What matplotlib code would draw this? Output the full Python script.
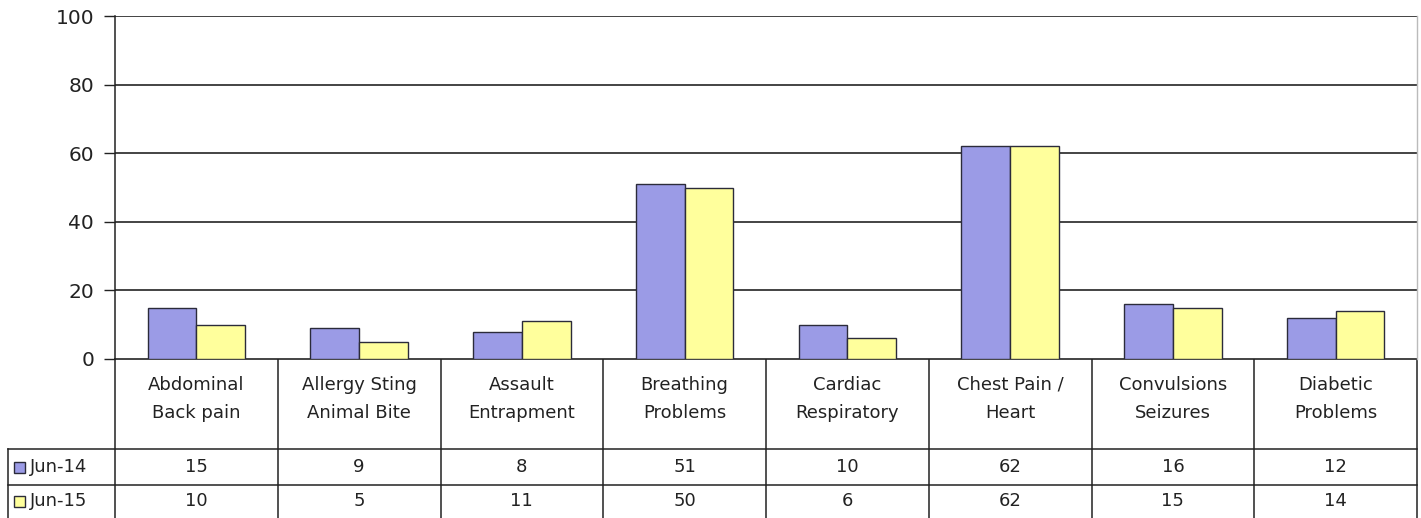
import matplotlib.pyplot as plt
import matplotlib.transforms as mtransforms
from matplotlib.patches import Rectangle

categories = ["Abdominal\nBack pain", "Allergy Sting\nAnimal Bite", "Assault\nEntrapment",
              "Breathing\nProblems", "Cardiac\nRespiratory", "Chest Pain /\nHeart",
              "Convulsions\nSeizures", "Diabetic\nProblems"]
series_names = ["Jun-14", "Jun-15"]
jun14 = [15, 9, 8, 51, 10, 62, 16, 12]
jun15 = [10, 5, 11, 50, 6, 62, 15, 14]
yticks = [0, 20, 40, 60, 80, 100]

colors = ["#9b9be6", "#ffff9c"]
edge = "#2b2b3a"

plt.rcParams['font.family'] = ['DejaVu Sans']

W, H = 1421, 518
fig = plt.figure(figsize=(W / 100, H / 100), dpi=100)

# plot area in pixel terms
left, right, top, bottom = 115, 1417, 16, 359
ax = fig.add_axes([left / W, 1 - bottom / H, (right - left) / W, (bottom - top) / H])

n = len(categories)
xs = list(range(n))
bw = 0.3
ax.bar([x - bw / 2 for x in xs], jun14, width=bw, color=colors[0], edgecolor=edge, linewidth=1.0, zorder=3)
ax.bar([x + bw / 2 for x in xs], jun15, width=bw, color=colors[1], edgecolor=edge, linewidth=1.0, zorder=3)

ax.set_xlim(-0.5, n - 0.5)
ax.set_ylim(0, 100)
ax.set_yticks(yticks)
ax.set_yticklabels([str(v) for v in yticks], fontsize=14.5, color="#222222")
ax.set_xticks([])
ax.tick_params(axis='y', length=8, width=1.0, color="#222222", pad=7)
ax.grid(axis='y', color="#111111", linewidth=1.1, zorder=0)
ax.set_axisbelow(True)
for side in ["top", "bottom"]:
    ax.spines[side].set_visible(False)
ax.spines["left"].set_color("#222222")
ax.spines["left"].set_linewidth(1.1)
ax.spines["right"].set_color("#bbbbbb")
ax.spines["right"].set_linewidth(1.0)

# data table under the plot
ax_t = fig.add_axes([0, 0, 1, 1], zorder=-1)
ax_t.set_xlim(0, W)
ax_t.set_ylim(H, 0)
ax_t.axis("off")
tr = mtransforms.blended_transform_factory(ax.transData, ax_t.transData)

lc = "#222222"
row_tops = [bottom, 449, 485, H]
ax_t.plot([left, right], [bottom, bottom], color=lc, lw=1.2)
for y in row_tops[1:3]:
    ax_t.plot([8, right], [y, y], color=lc, lw=1.1)
ax_t.plot([8, 8], [row_tops[1], H], color=lc, lw=1.1)
for i in range(n + 1):
    ax_t.plot([i - 0.5, i - 0.5], [bottom, H], color=lc, lw=1.1, transform=tr)

for i, cat in enumerate(categories):
    ax_t.text(i, 399, cat, transform=tr, ha="center", va="center",
              fontsize=13, linespacing=1.75, color="#222222")

for r, (name, vals) in enumerate(zip(series_names, [jun14, jun15])):
    yc = (row_tops[r + 1] + row_tops[r + 2]) / 2
    ax_t.add_patch(Rectangle((14, yc - 5.5), 11, 11, facecolor=colors[r], edgecolor=edge, lw=1.0))
    ax_t.text(30, yc, name, ha="left", va="center", fontsize=13, color="#222222")
    for i, v in enumerate(vals):
        ax_t.text(i, yc, str(v), transform=tr, ha="center", va="center", fontsize=13, color="#222222")

fig.savefig("out.png", dpi=100)
